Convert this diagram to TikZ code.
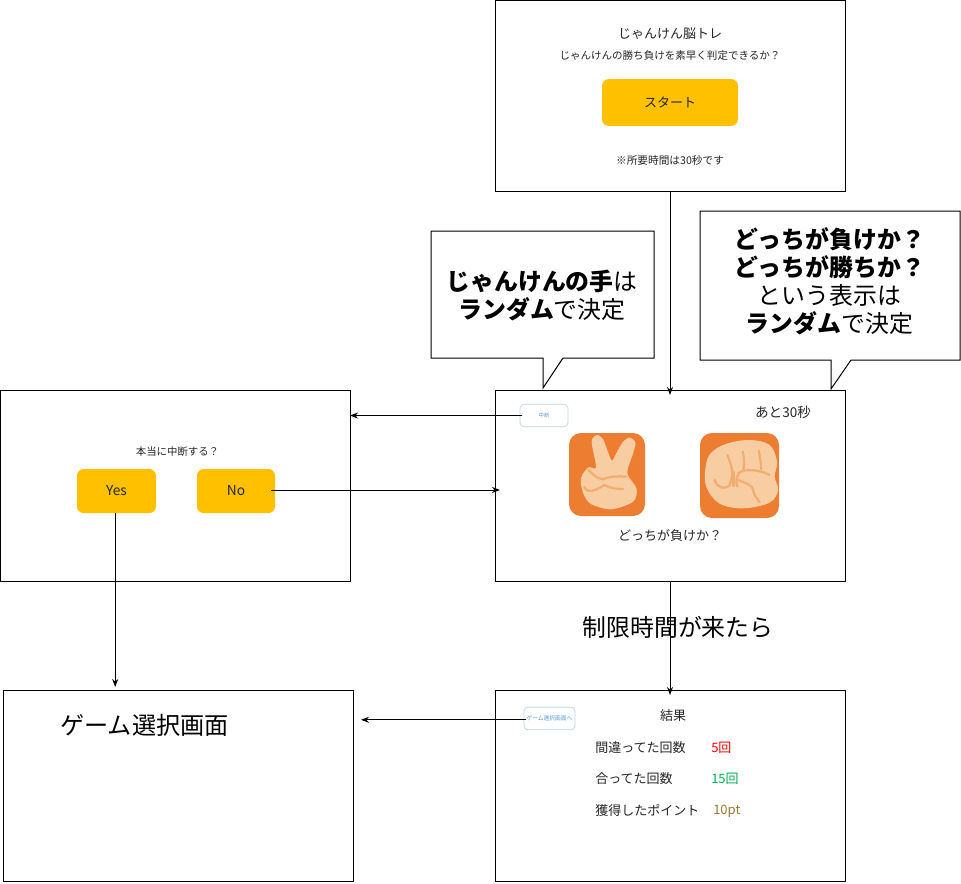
\documentclass[tikz,border=0pt]{standalone}
\usepackage{fontspec}
\usetikzlibrary{arrows.meta}
\setmainfont{Noto Sans CJK JP}
\definecolor{btnorange}{HTML}{FFC000}
\definecolor{handbg}{HTML}{ED7D31}
\definecolor{handskin}{HTML}{F9CDA2}
\definecolor{handline}{HTML}{F2AE70}
\definecolor{linkblue}{HTML}{5B9BD5}
\definecolor{linkedge}{HTML}{BDD7EE}
\definecolor{inktext}{HTML}{262626}
\newcommand{\fsz}[1]{\fontsize{#1}{#1}\selectfont}
\tikzset{
  screen/.style={draw=black,line width=0.75pt,fill=white,inner sep=0pt,minimum width=262.5pt,minimum height=143.25pt},
  yellowbtn/.style={fill=btnorange,rounded corners=5pt,inner sep=0pt,font=\fsz{10.3},text=inktext},
  linkbtn/.style={draw=linkedge,line width=0.6pt,fill=white,rounded corners=3pt,inner sep=0pt,text=linkblue},
  txt/.style={inner sep=0pt,text=inktext},
  bigtxt/.style={inner sep=0pt,align=center,text=black,font=\fontsize{17.9}{21}\selectfont},
  link/.style={line width=0.75pt,-{Stealth[length=6pt,width=4.5pt]}},
  hand/.style={fill=handskin},
  crease/.style={draw=handline,line width=1.7pt,line cap=round,line join=round}
}
\begin{document}
\begin{tikzpicture}[x=0.75pt,y=-0.75pt]
  \useasboundingbox (0,0) rectangle (961,883);
  % screens
  \node[screen] (start) at (670,95.5) {};
  \node[screen] (game) at (670,486) {};
  \node[screen] (confirm) at (175,486) {};
  \node[screen] (select) at (178,786) {};
  \node[screen] (result) at (670,786) {};
  % start screen
  \node[txt,font=\fsz{9.75}] (title) at (670,34) {じゃんけん脳トレ};
  \node[txt,font=\fsz{7.9}] (lead) at (670,56) {じゃんけんの勝ち負けを素早く判定できるか？};
  \node[yellowbtn,minimum width=102pt,minimum height=35pt,font=\fsz{9.75}] (startbtn) at (670,102.5) {スタート};
  \node[txt,font=\fsz{8}] (needtime) at (670,160) {※所要時間は30秒です};
  % callouts
  \draw[line width=0.75pt,fill=white] (431,231) -- (654,231) -- (654,358) -- (563,358) -- (543,388) -- (543,358) -- (431,358) -- cycle;
  \node[bigtxt] (randhand) at (542,295) {\textbf{じゃんけんの手}は\\\textbf{ランダム}で決定};
  \draw[line width=0.75pt,fill=white] (700,211) -- (960,211) -- (960,360) -- (851,360) -- (831,389) -- (831,360) -- (700,360) -- cycle;
  \node[bigtxt] (randtext) at (829.5,281) {\textbf{どっちが負けか？}\\\textbf{どっちが勝ちか？}\\という表示は\\\textbf{ランダム}で決定};
  % game screen
  \node[linkbtn,minimum width=36pt,minimum height=17pt,font=\fsz{4}] (cancel) at (544,415.5) {中断};
  \node[txt,font=\fsz{10.2}] (remain) at (783,412) {あと30秒};
  \node[txt,font=\fsz{9.75}] (question) at (670,536) {どっちが負けか？};
  \fill[handbg,rounded corners=9pt] (569,433) rectangle (645,516);
  \fill[handbg,rounded corners=9pt] (700,433) rectangle (779,518);
  \begin{scope}[shift={(500,390)},xscale=0.337,yscale=0.3333]
    \fill[hand] plot[smooth cycle,tension=0.5] coordinates {(272,155) (288,135) (306,148) (320,185) (332,212) (345,190) (365,155) (385,143) (402,158) (395,190) (378,250) (405,295) (395,335) (330,358) (270,342) (247,310) (240,265) (262,232) (285,232)};
    \draw[crease] (305,268) .. controls (330,258) and (350,258) .. (375,260);
    \draw[crease] (310,285) .. controls (330,295) and (345,297) .. (365,297);
    \draw[crease] (250,290) .. controls (258,310) and (280,305) .. (310,285);
    \draw[crease] (262,240) .. controls (275,250) and (285,265) .. (305,268);
    \fill[hand] plot[smooth cycle,tension=0.6] coordinates {(610,232) (625,190) (670,162) (740,150) (800,165) (822,215) (815,260) (825,300) (800,338) (720,355) (650,340) (612,290)};
    \draw[crease] (675,195) .. controls (690,235) and (695,250) .. (680,288) .. controls (665,298) and (645,295) .. (637,270);
    \draw[crease] (720,185) .. controls (725,205) and (725,225) .. (722,240);
    \draw[crease] (768,182) .. controls (772,205) and (775,220) .. (775,238);
    \draw[crease] (693,245) -- (693,288);
    \draw[crease] (800,255) .. controls (770,238) and (720,235) .. (708,250) .. controls (700,265) and (700,280) .. (705,290);
    \draw[crease] (703,268) .. controls (725,280) and (750,280) .. (752,305) .. controls (755,320) and (765,325) .. (770,337);
  \end{scope}
  % confirm screen
  \node[txt,font=\fsz{7.8}] (really) at (177.5,452) {本当に中断する？};
  \node[yellowbtn,minimum width=59.25pt,minimum height=33pt] (yes) at (116.5,491) {\raisebox{1.4pt}{Yes}};
  \node[yellowbtn,minimum width=58.5pt,minimum height=33pt] (no) at (236,491) {\raisebox{1.4pt}{No}};
  % select screen
  \node[txt,font=\fsz{18.1},text=black] (selecttitle) at (144.5,725) {ゲーム選択画面};
  % result screen
  \node[linkbtn,minimum width=38.25pt,minimum height=17pt,font=\fsz{4.3}] (back) at (549.5,718.5) {ゲーム選択画面へ};
  \node[txt,font=\fsz{9.75}] (restitle) at (673,716) {結果};
  \node[txt,font=\fsz{9.75},anchor=west] (wronglabel) at (595,747.5) {間違ってた回数};
  \node[txt,font=\fsz{9.75},anchor=west,text=red] (wrongval) at (711,747.5) {5回};
  \node[txt,font=\fsz{9.75},anchor=west] (rightlabel) at (595,779) {合ってた回数};
  \node[txt,font=\fsz{9.75},anchor=west,text={rgb,255:red,0;green,176;blue,80}] (rightval) at (711,779) {15回};
  \node[txt,font=\fsz{9.75},anchor=west] (pointlabel) at (595,811) {獲得したポイント};
  \node[txt,font=\fsz{9.75},anchor=west,text={rgb,255:red,154;green,123;blue,48}] (pointval) at (713,811) {10pt};
  \node[bigtxt] (limit) at (678,627) {制限時間が来たら};
  % connectors
  \coordinate (startin) at (670,395);
  \coordinate (confirmin) at (350,415.5);
  \coordinate (noout) at (271,490);
  \coordinate (gamein) at (500,490);
  \coordinate (resultin) at (670,695);
  \coordinate (yesout) at (115.2,513);
  \coordinate (selectin) at (115.2,687);
  \coordinate (backout) at (526,719.8);
  \coordinate (selectside) at (361,719.8);
  \draw[link] (start.south) -- (startin);
  \draw[link] ([xshift=2pt]cancel.west) -- (confirmin);
  \draw[link] (noout) -- (gamein);
  \draw[link] (yesout) -- (selectin);
  \draw[link] (game.south) -- (resultin);
  \draw[link] (backout) -- (selectside);
\end{tikzpicture}
\end{document}
